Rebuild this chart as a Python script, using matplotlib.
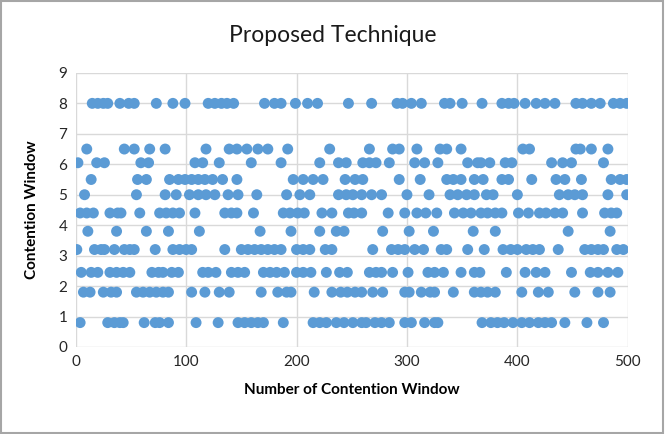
import matplotlib
matplotlib.use("Agg")
import matplotlib.pyplot as plt

plt.rcParams['font.family'] = ['Lato', 'DejaVu Sans']

# x positions of the points at each contention window level
x_8 = [15, 20, 25, 29, 40, 48, 53, 73, 88, 99, 120, 126, 132, 137, 143, 171, 180, 186,
       199, 210, 219, 247, 268, 291, 296, 304, 313, 334, 339, 350, 368, 386, 392, 397,
       407, 417, 425, 434, 453, 459, 467, 475, 487, 493, 499]
x_65 = [10, 44, 53, 67, 81, 118, 139, 146, 155, 165, 174, 192, 230, 266, 287, 293, 309,
        330, 336, 349, 405, 411, 453, 457, 467, 482]
x_605 = [2, 19, 26, 59, 66, 108, 115, 130, 159, 186, 221, 238, 245, 260, 266, 272, 284,
         307, 316, 328, 355, 364, 367, 375, 389, 395, 431, 441, 449, 478]
x_55 = [14, 56, 64, 85, 93, 99, 105, 111, 117, 124, 133, 146, 197, 206, 215, 224, 244,
        253, 260, 293, 312, 336, 342, 349, 361, 369, 386, 392, 413, 435, 443, 458, 485,
        493, 499]
x_5 = [8, 55, 81, 91, 103, 111, 118, 126, 138, 147, 164, 191, 203, 212, 238, 245, 251,
       259, 268, 277, 300, 320, 339, 346, 354, 361, 372, 378, 400, 438, 446, 452, 459,
       482, 499]
x_44 = [4, 10, 16, 31, 38, 41, 58, 76, 82, 88, 94, 108, 135, 141, 146, 161, 188, 194,
        201, 207, 223, 232, 247, 252, 259, 283, 298, 309, 317, 327, 343, 351, 358, 367,
        373, 380, 386, 401, 410, 420, 426, 434, 441, 459, 479, 485, 490]
x_38 = [11, 37, 64, 84, 112, 167, 195, 221, 236, 243, 278, 302, 324, 360, 380, 446, 484]
x_32 = [1, 17, 23, 26, 35, 44, 49, 53, 72, 88, 94, 100, 105, 135, 150, 156, 162, 168,
        174, 180, 186, 200, 206, 212, 226, 232, 269, 286, 292, 298, 307, 315, 331, 336,
        355, 370, 387, 394, 400, 408, 414, 420, 437, 461, 467, 473, 478, 490, 496]
x_245 = [5, 14, 20, 31, 37, 43, 49, 69, 75, 79, 87, 93, 115, 120, 127, 141, 147, 153,
         170, 176, 182, 189, 200, 206, 213, 227, 239, 246, 266, 272, 277, 287, 301, 319,
         325, 333, 349, 361, 366, 390, 407, 417, 425, 449, 466, 473, 482, 491]
x_18 = [7, 13, 25, 32, 37, 55, 61, 67, 73, 79, 84, 105, 117, 130, 139, 168, 183, 191,
        195, 216, 232, 240, 246, 253, 259, 269, 278, 298, 302, 313, 321, 325, 342, 361,
        367, 373, 380, 404, 419, 428, 452, 473, 484]
x_08 = [4, 29, 35, 40, 43, 62, 72, 76, 84, 109, 129, 147, 153, 159, 165, 170, 188, 215,
        221, 227, 236, 243, 251, 259, 263, 271, 277, 284, 298, 304, 316, 325, 328, 368,
        376, 382, 388, 396, 404, 411, 419, 425, 431, 443, 463, 478]

levels = [(8.0, x_8), (6.5, x_65), (6.05, x_605), (5.5, x_55), (5.0, x_5), (4.4, x_44),
          (3.8, x_38), (3.2, x_32), (2.45, x_245), (1.8, x_18), (0.8, x_08)]

fig = plt.figure(figsize=(6.70, 4.34), dpi=100)
ax = fig.add_axes([0.113, 0.2005, 0.824, 0.6315])

for y, xs in levels:
    ax.scatter(xs, [y] * len(xs), s=62, color='#5B9BD5', edgecolors='none', zorder=3)

ax.set_xlim(0, 500)
ax.set_ylim(0, 9)
ax.set_xticks(range(0, 501, 100))
ax.set_yticks(range(0, 10))
ax.grid(True, color='#D9D9D9', linewidth=1)
for s in ax.spines.values():
    s.set_visible(False)
ax.tick_params(length=0, labelsize=11, colors='#262626', pad=6)

fig.text(0.496, 0.919, 'Proposed Technique', fontsize=16.5, ha='center', va='center',
         color='#1a1a1a')
ax.set_xlabel('Number of Contention Window', fontsize=11, fontweight='bold', labelpad=10)
ax.set_ylabel('Contention Window', fontsize=11, fontweight='bold', labelpad=14)

# gray frame around the chart
fig.patches.append(plt.Rectangle((0.002, 0.003), 0.988, 0.994, transform=fig.transFigure,
                                 fill=False, edgecolor='#A6A6A6', linewidth=1.5))

fig.savefig('out.png', dpi=100)
